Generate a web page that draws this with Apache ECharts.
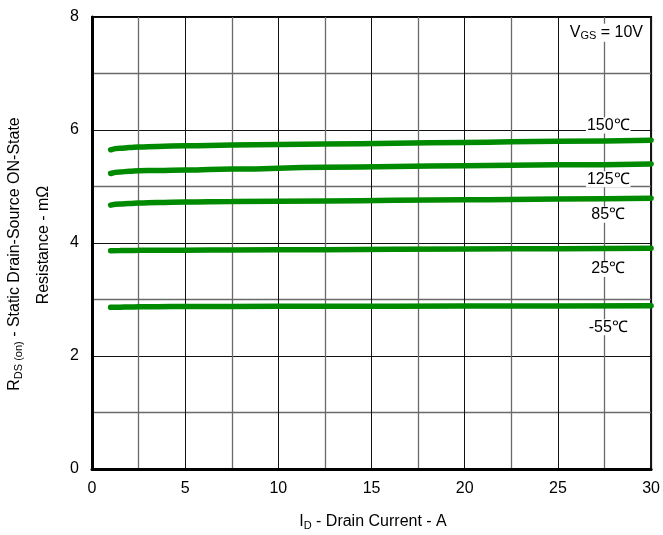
<!DOCTYPE html>
<html>
<head>
<meta charset="utf-8">
<script src="https://cdn.jsdelivr.net/npm/echarts@6/dist/echarts.min.js"></script>
<style>
html,body{margin:0;padding:0;background:#fff;}
#chart{width:663px;height:535px;}
</style>
</head>
<body>
<div id="chart"></div>
<script>
// Drain current (A)
var currents = [1, 1.5, 2, 2.5, 3.5, 5, 7.5, 12.5, 20, 25, 30];
// RDS(on) in mOhm per temperature
var r150 = [5.65, 5.675, 5.69, 5.70, 5.71, 5.72, 5.735, 5.752, 5.78, 5.80, 5.82];
var r125 = [5.23, 5.255, 5.27, 5.28, 5.285, 5.292, 5.31, 5.34, 5.366, 5.383, 5.40];
var r85  = [4.67, 4.69, 4.70, 4.71, 4.718, 4.725, 4.735, 4.745, 4.764, 4.777, 4.79];
var r25  = [3.865, 3.867, 3.868, 3.87, 3.872, 3.873, 3.876, 3.882, 3.894, 3.90, 3.905];
var rm55 = [2.862, 2.865, 2.868, 2.87, 2.873, 2.875, 2.878, 2.88, 2.885, 2.887, 2.89];
var seriesNames = ['150℃', '125℃', '85℃', '25℃', '-55℃'];
// label anchor positions (x in A, y in mOhm)
var labelX = [27.7, 27.7, 27.7, 27.7, 27.7];
var labelY = [6.08, 5.13, 4.50, 3.54, 2.51];
var vgsLabel = {x: 27.6, y: 7.72};
var xTicks = [0, 5, 10, 15, 20, 25, 30];
var yTicks = [0, 2, 4, 6, 8];

var FONT = 'Arial, "Liberation Sans", sans-serif';
var GREEN = '#008a00';
var INK = '#000';

function pairs(xs, ys) { return xs.map(function (x, i) { return [x, ys[i]]; }); }

var allY = [r150, r125, r85, r25, rm55];
var series = allY.map(function (ys, i) {
  return {
    name: seriesNames[i], type: 'line', data: pairs(currents, ys),
    smooth: 0.5, smoothMonotone: 'x', showSymbol: false, symbol: 'none',
    lineStyle: {color: GREEN, width: 5.5, cap: 'round'},
    silent: true, z: 3
  };
});

series.push({
  type: 'scatter', symbolSize: 0, silent: true, z: 5,
  itemStyle: {opacity: 1},
  data: labelX.map(function (x, i) { return {value: [x, labelY[i]], name: seriesNames[i]}; }),
  label: {
    show: true, position: 'inside', formatter: function (p) { return p.name; },
    color: INK, opacity: 1, fontFamily: FONT, fontSize: 16, backgroundColor: '#fff',
    padding: [0, 1, 0, 1]
  }
});

series.push({
  type: 'scatter', symbolSize: 0, silent: true, z: 5,
  itemStyle: {opacity: 1},
  data: [{value: [vgsLabel.x, vgsLabel.y]}],
  label: {
    show: true, position: 'inside', opacity: 1,
    formatter: '{a|V}{s|GS}{a| = 10V}',
    backgroundColor: '#fff', padding: [0, 2, 0, 2],
    rich: {
      a: {color: INK, fontFamily: FONT, fontSize: 16, lineHeight: 18},
      s: {color: INK, fontFamily: FONT, fontSize: 11, lineHeight: 8, verticalAlign: 'bottom'}
    }
  }
});

var chart = echarts.init(document.getElementById('chart'), null, {renderer: 'canvas'});
chart.setOption({
  animation: false,
  backgroundColor: '#fff',
  grid: {left: 92, right: 8, top: 17, bottom: 66, show: true, borderColor: '#000', borderWidth: 2, backgroundColor: 'transparent'},
  xAxis: {
    type: 'value', min: xTicks[0], max: xTicks[xTicks.length - 1], interval: 5,
    axisLine: {show: true, onZero: false, lineStyle: {color: '#000', width: 3}},
    axisTick: {show: false},
    axisLabel: {color: INK, fontFamily: FONT, fontSize: 16, margin: 12},
    splitLine: {show: true, lineStyle: {color: '#111', width: 1}},
    minorTick: {show: false, splitNumber: 2},
    minorSplitLine: {show: true, lineStyle: {color: '#6a6a6a', width: 1.3}}
  },
  yAxis: {
    type: 'value', min: yTicks[0], max: yTicks[yTicks.length - 1], interval: 2,
    axisLine: {show: true, onZero: false, lineStyle: {color: '#000', width: 3}},
    axisTick: {show: false},
    axisLabel: {color: INK, fontFamily: FONT, fontSize: 16, margin: 13},
    splitLine: {show: true, lineStyle: {color: '#111', width: 1}},
    minorTick: {show: false, splitNumber: 2},
    minorSplitLine: {show: true, lineStyle: {color: '#6a6a6a', width: 1.3}}
  },
  graphic: [
    {
      type: 'text', x: 373, y: 522,
      style: {
        text: '{a|I}{s|D}{a| - Drain Current - A}',
        align: 'center', verticalAlign: 'middle',
        rich: {
          a: {fill: INK, fontFamily: FONT, fontSize: 16, lineHeight: 18},
          s: {fill: INK, fontFamily: FONT, fontSize: 11, lineHeight: 8, verticalAlign: 'bottom'}
        }
      }
    },
    {
      type: 'text', x: 15, y: 254, rotation: Math.PI / 2,
      style: {
        text: '{a|R}{s|DS (on)}{a| - Static Drain-Source ON-State}',
        align: 'center', verticalAlign: 'middle',
        rich: {
          a: {fill: INK, fontFamily: FONT, fontSize: 16, lineHeight: 18},
          s: {fill: INK, fontFamily: FONT, fontSize: 11, lineHeight: 8, verticalAlign: 'bottom'}
        }
      }
    },
    {
      type: 'text', x: 44, y: 245, rotation: Math.PI / 2,
      style: {
        text: 'Resistance - mΩ', fill: INK, font: '16px ' + FONT,
        align: 'center', verticalAlign: 'middle'
      }
    }
  ],
  series: series
});
</script>
</body>
</html>
